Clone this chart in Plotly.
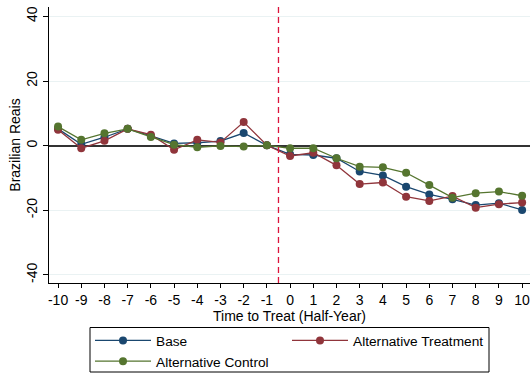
import plotly.graph_objects as go

periods = list(range(-10, 11))
period_labels = [str(p) for p in periods]
base = [5.2, 0.4, 2.6, 5.2, 3.0, 0.7, 0.9, 1.4, 3.9, 0.1, -2.7, -2.9, -3.9, -8.0, -9.2, -12.7, -15.1, -16.6, -18.4, -17.8, -19.9]
alt_treat = [4.9, -0.8, 1.5, 5.2, 3.4, -1.3, 1.8, 1.0, 7.3, 0.1, -3.2, -2.2, -6.1, -11.9, -11.4, -15.8, -17.1, -15.6, -19.2, -18.1, -17.6]
alt_control = [5.9, 1.8, 3.8, 5.2, 2.7, 0.3, -0.5, -0.1, -0.3, 0.1, -0.8, -0.8, -3.9, -6.5, -6.7, -8.4, -12.2, -16.1, -14.7, -14.2, -15.5]
series_names = ["Base", "Alternative Treatment", "Alternative Control"]
colors = ["#1a476f", "#90353b", "#55752f"]
yticks = [-40, -20, 0, 20, 40]
ytick_labels = [str(v) for v in yticks]
treat_line_x = -0.5

W, H = 531, 377
ML, MR, MT, MB = 49, 1, 7, 94
PW, PH = W - ML - MR, H - MT - MB


def px_to_paper_x(px):
    return (px - ML) / PW


def px_to_paper_y(py):
    return (H - MB - py) / PH


fig = go.Figure()
for name, vals, c in zip(series_names, [base, alt_treat, alt_control], colors):
    fig.add_trace(go.Scatter(
        x=periods, y=vals, name=name, mode="lines+markers",
        line=dict(color=c, width=1.3),
        marker=dict(color=c, size=8),
    ))

fig.add_shape(type="line", x0=treat_line_x, x1=treat_line_x, y0=0, y1=1,
              xref="x", yref="paper",
              line=dict(color="#dc143c", width=1.3, dash="6px,4px"))

# legend frame
fig.add_shape(type="rect", xref="paper", yref="paper",
              x0=px_to_paper_x(90), x1=px_to_paper_x(489),
              y0=px_to_paper_y(372), y1=px_to_paper_y(327.5),
              line=dict(color="black", width=1), fillcolor="rgba(0,0,0,0)")

fig.update_layout(
    width=W, height=H,
    margin=dict(l=ML, r=MR, t=MT, b=MB, autoexpand=False),
    paper_bgcolor="white", plot_bgcolor="white",
    font=dict(family="Liberation Sans, Arial, sans-serif", size=14, color="black"),
    showlegend=True,
    legend=dict(
        orientation="h", xref="container", yref="container",
        x=90 / W, y=1 - 325 / H, xanchor="left", yanchor="top",
        borderwidth=0, bgcolor="rgba(0,0,0,0)",
        font=dict(size=13.7), entrywidth=126, itemwidth=56,
        tracegroupgap=0,
    ),
    xaxis=dict(
        range=[-10.39, 10.34], tickmode="array", tickvals=periods, ticktext=period_labels,
        ticks="outside", ticklen=4, tickcolor="black",
        showline=True, linecolor="black", linewidth=1.3,
        showgrid=False, zeroline=False, automargin=False,
        title=dict(text="Time to Treat (Half-Year)", standoff=0, font=dict(size=14)),
        tickfont=dict(size=14),
    ),
    yaxis=dict(
        range=[-42.5, 42.9], tickmode="array", tickvals=yticks, ticktext=ytick_labels,
        ticks="outside", ticklen=5, tickcolor="black", tickangle=-90,
        showline=True, linecolor="black", linewidth=1.3,
        showgrid=True, gridcolor="#eaf2f3", gridwidth=1,
        zeroline=True, zerolinecolor="#333333", zerolinewidth=1.5,
        automargin=False,
        title=dict(text="Brazilian Reais", standoff=0, font=dict(size=14)),
        tickfont=dict(size=14),
    ),
)

fig.write_html("out.html", config={"displayModeBar": False},
               post_script="document.body.style.margin='0';")
